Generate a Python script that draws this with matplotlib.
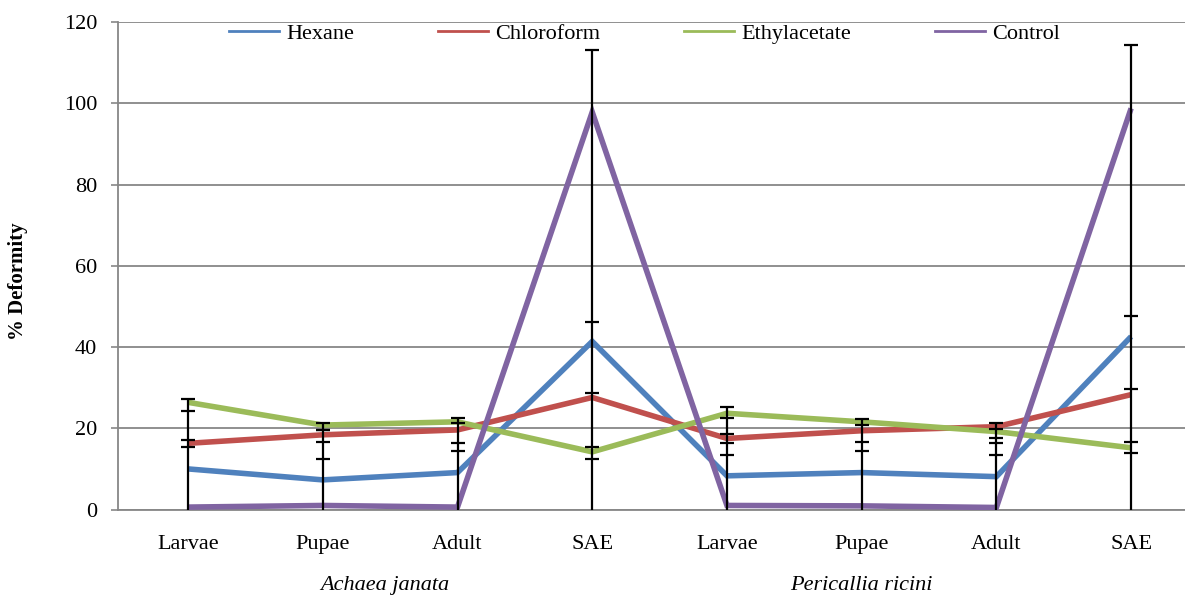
import numpy as np
import matplotlib
matplotlib.use("Agg")
import matplotlib.pyplot as plt
from matplotlib.lines import Line2D

plt.rcParams['font.family'] = ['Liberation Serif', 'DejaVu Serif']

categories = ['Larvae', 'Pupae', 'Adult', 'SAE', 'Larvae', 'Pupae', 'Adult', 'SAE']
groups = ['Achaea janata', 'Pericallia ricini']
series_names = ['Hexane', 'Chloroform', 'Ethylacetate', 'Control']

hexane = [10.0, 7.3, 9.1, 41.4, 8.3, 9.1, 8.1, 42.6]
chloroform = [16.3, 18.4, 19.6, 27.6, 17.5, 19.4, 20.4, 28.3]
ethylacetate = [26.4, 20.8, 21.6, 14.2, 23.7, 21.6, 19.2, 15.2]
control = [0.6, 1.0, 0.6, 97.9, 1.0, 0.9, 0.5, 98.8]

nan = np.nan
# error-bar cap positions as seen in the figure (upper / lower), nan = not visible
hexane_hi = [nan, 12.4, 14.4, 46.3, 13.4, 14.4, 13.4, 47.7]
hexane_lo = [nan] * 8
chloroform_hi = [17.1, 19.6, 21.2, 28.6, 18.6, nan, 21.4, 29.6]
chloroform_lo = [15.4, 16.7, 16.3, nan, 16.3, 16.7, 17.5, nan]
ethylacetate_hi = [27.2, 21.4, 22.5, 15.3, 25.2, 22.3, 19.8, 16.7]
ethylacetate_lo = [24.3, 19.6, nan, 12.4, 22.5, 20.7, 16.3, 14.0]
control_hi = [nan, nan, nan, 113.2, nan, nan, nan, 114.5]
control_lo = [nan] * 8

colors = ['#4F81BD', '#C0504D', '#9BBB59', '#8064A2']

fig = plt.figure(figsize=(11.85, 5.96), dpi=100)
ax = fig.add_axes([118 / 1185, 0.1451, 1 - 118 / 1185, 0.8175])

x = np.arange(len(categories))
values = [hexane, chloroform, ethylacetate, control]
his = [hexane_hi, chloroform_hi, ethylacetate_hi, control_hi]
los = [hexane_lo, chloroform_lo, ethylacetate_lo, control_lo]

for vals, c in zip(values, colors):
    ax.plot(x, vals, color=c, lw=4.0, solid_capstyle='butt', solid_joinstyle='miter', zorder=3)

allcaps = np.array(his + los, dtype=float)
tops = np.nanmax(allcaps, axis=0)
ax.vlines(x, 0, tops, color='black', lw=1.6, zorder=4)
for h, l in zip(his, los):
    ax.plot(x, h, ls='none', marker='_', ms=10, mew=1.6, color='black', zorder=5)
    ax.plot(x, l, ls='none', marker='_', ms=10, mew=1.6, color='black', zorder=5)

ax.set_xlim(-0.52, 7.40)
ax.set_ylim(0, 120)
ax.set_yticks(np.arange(0, 121, 20))
ax.yaxis.grid(True, color='#878787', lw=1.3)
ax.set_axisbelow(True)
ax.set_xticks(x)
ax.set_xticklabels(categories, fontsize=16)
ax.tick_params(axis='x', length=0, pad=18)
ax.tick_params(axis='y', length=5, width=1.2, color='#878787', labelsize=16, pad=10)

for s in ['top', 'right']:
    ax.spines[s].set_visible(False)
for s in ['left', 'bottom']:
    ax.spines[s].set_color('#878787')
    ax.spines[s].set_linewidth(1.3)

trans = ax.get_xaxis_transform()
ax.text(1.46, -0.155, groups[0], transform=trans, ha='center', va='center',
        fontsize=16, style='italic')
ax.text(5.0, -0.155, groups[1], transform=trans, ha='center', va='center',
        fontsize=16, style='italic')

fig.text(18 / 1185, 0.528, '% Deformity', rotation=90, ha='center', va='center',
         fontsize=15, fontweight='bold')

handles = [Line2D([0], [0], color=c, lw=2) for c in colors]
fig.legend(handles, series_names, loc='center', bbox_to_anchor=(0.544, 0.943),
           ncol=4, frameon=False, fontsize=16, handlelength=2.25,
           handletextpad=0.3, columnspacing=3.8, borderaxespad=0, borderpad=0)

fig.savefig('out.png', dpi=100)
